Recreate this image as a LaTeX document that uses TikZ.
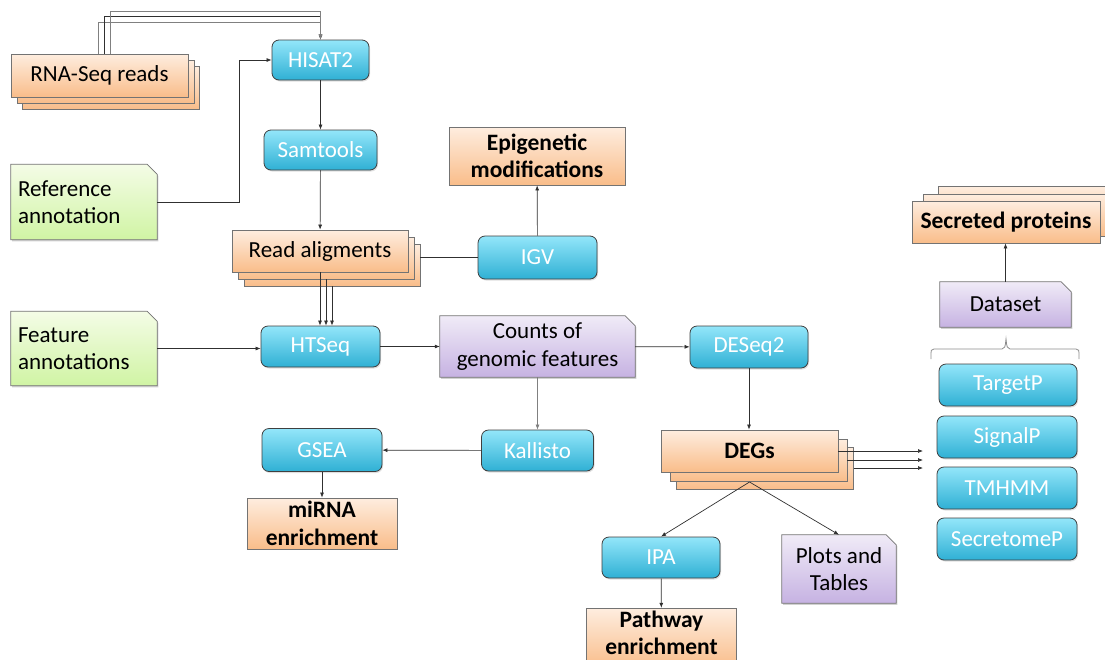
\documentclass[tikz,border=0pt]{standalone}
\usepackage{fontspec}
\setmainfont{Carlito}
\usetikzlibrary{arrows.meta,shadows,backgrounds}
\definecolor{cyT}{HTML}{93E6FA}
\definecolor{cyB}{HTML}{2FB0D4}
\definecolor{orT}{HTML}{FEEDDF}
\definecolor{orB}{HTML}{F9BD8A}
\definecolor{grT}{HTML}{F4FCE6}
\definecolor{grB}{HTML}{D0F4A4}
\definecolor{puT}{HTML}{F0EBF7}
\definecolor{puB}{HTML}{C6B2E2}
\definecolor{edge}{HTML}{3F3F3F}
\definecolor{ln}{HTML}{303030}
\begin{document}
\begin{tikzpicture}[x=1pt,y=-1pt,
  every node/.style={font=\fontsize{23pt}{27.5pt}\selectfont, inner sep=0pt},
  tool/.style={rectangle, rounded corners=7pt, draw=edge, line width=0.8pt,
    top color=cyT, bottom color=cyB, text=white,
    drop shadow={opacity=0.25, shadow xshift=1pt, shadow yshift=-1.5pt}},
  obox/.style={rectangle, draw=black!55, line width=0.8pt, top color=orT, bottom color=orB, align=center},
  bbox/.style={obox, font=\fontsize{23.5pt}{27.5pt}\selectfont\bfseries},
  lnote/.style={rectangle, align=left, inner xsep=7pt},
  cnote/.style={rectangle, align=center},
  arr/.style={draw=ln, line width=0.7pt, -{Latex[length=5pt,width=4pt]}},
  plain/.style={draw=ln, line width=0.7pt},
]
\useasboundingbox (0,0) rectangle (1105,659);
\clip (0,0) rectangle (1105,659);

% RNA-Seq reads stack
\node[obox, minimum width=177pt, minimum height=43pt] (rna3) at (110.5,87.5) {};
\node[obox, minimum width=177pt, minimum height=43pt] (rna2) at (105.5,81.5) {};
\node[obox, minimum width=177pt, minimum height=43pt] (rna) at (99.5,75.5) {RNA-Seq reads};

\node[tool, minimum width=97pt, minimum height=40pt] (hisat) at (320.5,60) {HISAT2};
\node[tool, minimum width=113pt, minimum height=40pt] (samtools) at (320.5,150) {Samtools};

\node[lnote, text width=132pt, minimum height=75pt] (refann) at (84,202) {Reference\\annotation};
\node[lnote, text width=132pt, minimum height=74pt] (featann) at (84,348.5) {Feature\\annotations};

% Read aligments stack
\node[obox, minimum width=176pt, minimum height=42pt] (readal3) at (332,265) {};
\node[obox, minimum width=176pt, minimum height=42pt] (readal2) at (326,258) {};
\node[obox, minimum width=176pt, minimum height=42pt] (readal) at (320,251) {Read aligments};

\node[tool, minimum width=119pt, minimum height=43pt] (igv) at (537.5,257.5) {IGV};
\node[bbox, minimum width=176pt, minimum height=58pt] (epi) at (537,156) {Epigenetic\\modifications};

\node[tool, minimum width=119pt, minimum height=41pt] (htseq) at (320.5,346.5) {HTSeq};
\node[cnote, minimum width=195pt, minimum height=61pt] (counts) at (537.5,346.5) {Counts of\\genomic features};
\node[tool, minimum width=118pt, minimum height=42pt] (deseq) at (749,347) {DESeq2};

\node[tool, minimum width=112pt, minimum height=41pt] (kallisto) at (537.5,450.5) {Kallisto};
\node[tool, minimum width=120pt, minimum height=43pt] (gsea) at (322,450) {GSEA};
\node[bbox, minimum width=150pt, minimum height=51pt] (mirna) at (322,523.5) {miRNA\\enrichment};

% DEGs stack
\node[obox, minimum width=177pt, minimum height=42pt] (degs3) at (765,468) {};
\node[obox, minimum width=177pt, minimum height=42pt] (degs2) at (758.5,460) {};
\node[bbox, minimum width=177pt, minimum height=42pt] (degs) at (749.5,451) {DEGs};

\node[tool, minimum width=118pt, minimum height=41pt] (ipa) at (661,557.5) {IPA};
\node[cnote, minimum width=114pt, minimum height=68pt] (plots) at (839,569) {Plots and\\Tables};
\node[cnote, font=\fontsize{23.5pt}{27.5pt}\selectfont\bfseries, minimum width=149pt, minimum height=50pt] (pathway) at (661.5,633) {Pathway\\enrichment};

% Secreted proteins stack
\node[obox, minimum width=188pt, minimum height=42pt] (sec3) at (1032,207) {};
\node[obox, minimum width=188pt, minimum height=42pt] (sec2) at (1017,215) {};
\node[bbox, minimum width=188pt, minimum height=42pt] (sec) at (1006,222) {Secreted proteins};

\node[cnote, minimum width=131pt, minimum height=45pt] (dataset) at (1005.5,304.5) {Dataset};

\node[tool, minimum width=138pt, minimum height=42pt] (targetp) at (1008,385) {TargetP};
\node[tool, minimum width=140pt, minimum height=42pt] (signalp) at (1007,437) {SignalP};
\node[tool, minimum width=140pt, minimum height=42pt] (tmhmm) at (1007,488) {TMHMM};
\node[tool, minimum width=140pt, minimum height=42pt] (secretomep) at (1007,539) {SecretomeP};

\begin{pgfonlayer}{background}
% pathway box continues past the lower edge
\path[draw=black!55, line width=0.8pt, top color=orT, bottom color=orB]
  ([yshift=-0.5pt]pathway.north west) rectangle ([yshift=-10pt]pathway.south east);
\foreach \n/\ct/\cb in {refann/grT/grB, featann/grT/grB, counts/puT/puB, plots/puT/puB, dataset/puT/puB}{
  \path[fill=black, opacity=0.18] ([shift={(1.2pt,-1.6pt)}]\n.south west) -- ([shift={(1.2pt,-1.6pt)}]\n.north west) -- ([shift={(-8.8pt,-1.6pt)}]\n.north east) -- ([shift={(1.2pt,-11.6pt)}]\n.north east) -- ([shift={(1.2pt,-1.6pt)}]\n.south east) -- cycle;
  \path[draw=black!55, line width=0.8pt, top color=\ct, bottom color=\cb]
    (\n.south west) -- (\n.north west) -- ([xshift=-10pt]\n.north east)
    -- ([yshift=-10pt]\n.north east) -- (\n.south east) -- cycle;
}
\end{pgfonlayer}

% brace
\draw[black!45, line width=0.8pt] (931,359) -- (931,353) .. controls (931,350) .. (934,349)
  -- (1002,349) .. controls (1005,348) .. (1006,339) .. controls (1007,348) .. (1010,349)
  -- (1076,349) .. controls (1079,350) .. (1079,353) -- (1079,359);

% connectors
\draw[arr, draw=black!50] ([xshift=-1.5pt]rna.north) -- ++(0,-31) -| (hisat.north);
\draw[arr] ([xshift=4.5pt]rna.north) -- ++(0,-37) -| (hisat.north);
\draw[arr, draw=black!50] ([xshift=10.5pt]rna.north) -- ++(0,-42) -| (hisat.north);
\draw[arr] (refann.east) -- ++(82,0) |- (hisat.west);
\draw[arr] (hisat) -- (samtools);
\draw[arr] (samtools) -- (readal);
\draw[plain] (igv.west) -- (igv.west -| readal3.east);
\draw[arr] (igv) -- (epi);
\draw[arr] (readal.south) -- (readal.south |- htseq.north);
\draw[arr] (readal2.south) -- (readal2.south |- htseq.north);
\draw[arr] (readal3.south) -- (readal3.south |- htseq.north);
\draw[arr] (featann.east) -- (featann.east -| htseq.west);
\draw[arr] (htseq) -- (counts);
\draw[arr] (counts) -- (deseq);
\draw[arr, draw=black!50] (counts.south) -- (counts.south |- kallisto.north);
\draw[arr] (kallisto) -- (gsea);
\draw[arr] (gsea) -- (mirna);
\draw[arr] (deseq.south) -- (deseq.south |- degs.north);
\coordinate (t1) at (923,451);
\coordinate (t2) at (923,460);
\coordinate (t3) at (923,468);
\draw[arr] (degs.east) -- (t1);
\draw[arr] (degs2.east) -- (t2);
\draw[arr] (degs3.east) -- (t3);
\coordinate (apex) at (749.5,482);
\draw[arr] (apex) -- (ipa.north);
\draw[arr] (apex) -- (plots.north);
\draw[arr] (ipa) -- (pathway);
\draw[arr] (dataset.north) -- (dataset.north |- sec.south);
\end{tikzpicture}
\end{document}
